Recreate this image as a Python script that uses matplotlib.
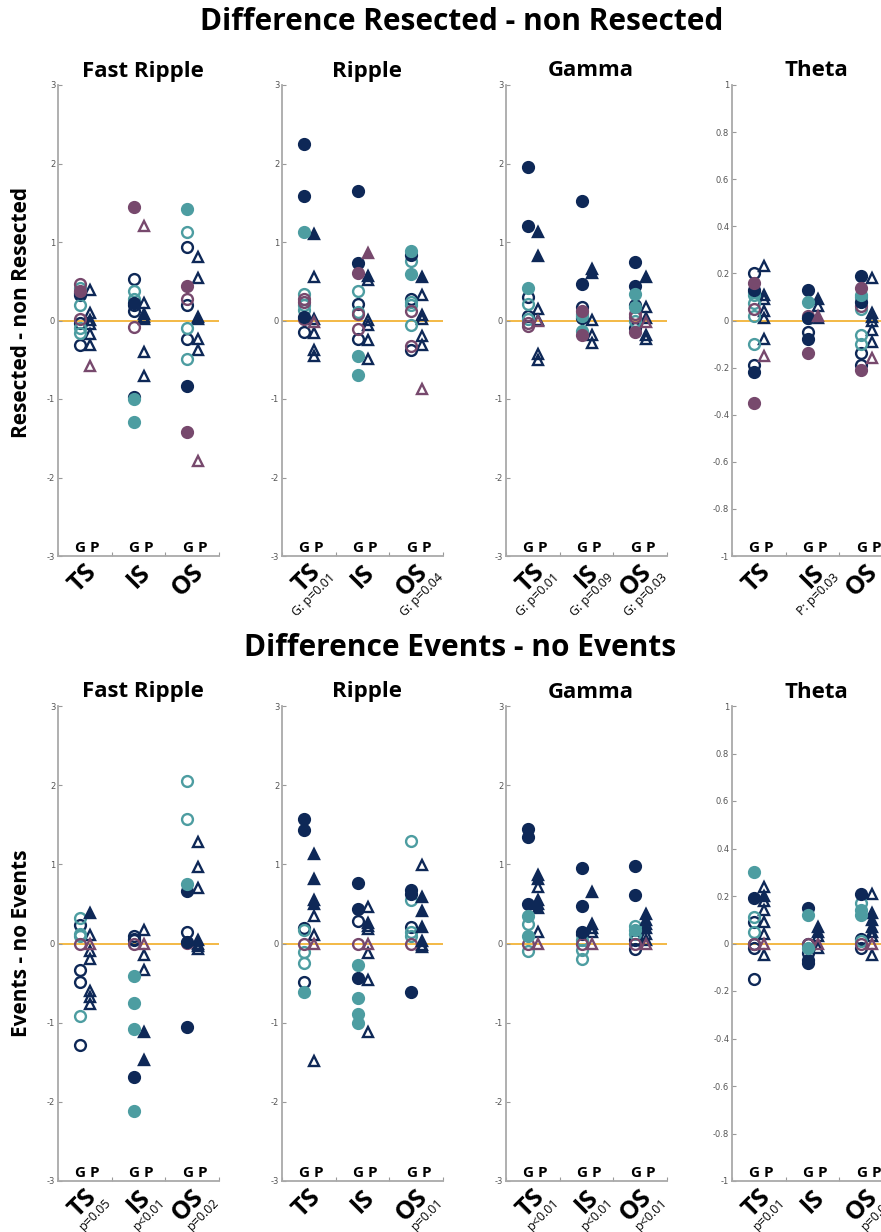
import matplotlib
matplotlib.use("Agg")
import matplotlib.pyplot as plt

# ---------------- data ----------------
# column order in every list: TS_G, TS_P, IS_G, IS_P, OS_G, OS_P
groups = ["TS", "IS", "OS"]
cols = ["G", "P"]

# --- top row: Difference Resected - non Resected ---
tfr_navy_f = [[0.35], [], [0.22, -0.97], [0.08], [-0.84], [0.05]]
tfr_navy_o = [[0.33, -0.03, -0.31], [0.39, 0.10, 0.01, -0.04, -0.17, -0.31], [0.53, 0.20, 0.12],
              [0.22, 0.05, 0.02, -0.40, -0.71], [0.93, 0.20, -0.24], [0.81, 0.54, 0.02, -0.24, -0.38]]
tfr_teal_f = [[], [], [-1.0, -1.29], [], [1.42], []]
tfr_teal_o = [[0.42, 0.20, -0.10, -0.16], [], [0.37, 0.27], [], [1.13, -0.09, -0.49], []]
tfr_purple_f = [[0.38], [], [1.44], [], [0.44, -1.42], []]
tfr_purple_o = [[0.46, 0.02], [-0.58], [-0.08], [1.21], [0.27], [-1.79]]

tr_navy_f = [[2.25, 1.58, 0.04], [1.10], [1.65, 0.73], [0.57], [0.83], [0.55]]
tr_navy_o = [[-0.15], [0.56, 0.02, -0.16, -0.38, -0.45], [0.21, -0.23], [0.52, 0.01, -0.06, -0.25, -0.49],
             [0.27, -0.37], [0.33, 0.07, 0.02, -0.20, -0.31]]
tr_teal_f = [[1.13], [], [-0.45, -0.70], [], [0.89, 0.59], []]
tr_teal_o = [[0.34, 0.20, 0.13], [], [0.37, 0.11], [], [0.76, 0.24, 0.20, -0.06], []]
tr_purple_f = [[], [], [0.61], [0.86], [], []]
tr_purple_o = [[0.27, 0.24, 0.02], [-0.02], [0.08, -0.11], [], [0.12, -0.33], [-0.87]]

tg_navy_f = [[1.96, 1.21], [1.13, 0.82], [1.52, 0.47], [0.66, 0.61], [0.74, 0.44], [0.55]]
tg_navy_o = [[0.30, 0.06], [0.15, 0.01, -0.43, -0.50], [0.17, 0.03], [0.01, -0.19, -0.29],
             [0.20, -0.10], [0.17, 0.03, -0.18, -0.23]]
tg_teal_f = [[0.41], [], [0.06, -0.14], [], [0.34, 0.17], []]
tg_teal_o = [[0.21, 0.02], [], [0.08], [], [0.0], []]
tg_purple_f = [[], [], [0.12, -0.18], [], [-0.15], []]
tg_purple_o = [[-0.03, -0.07], [0.0], [], [], [0.08, 0.04], [-0.02]]

tt_navy_f = [[0.13, -0.22], [], [0.13, -0.08, 0.01], [0.09], [0.19, 0.08], []]
tt_navy_o = [[0.20, -0.19], [0.23, 0.11, 0.09, 0.04, 0.01, -0.08], [-0.05], [0.06, 0.01],
             [-0.14, -0.19], [0.18, 0.03, 0.015, 0.0, -0.04, -0.09]]
tt_teal_f = [[], [], [0.08], [], [0.11], []]
tt_teal_o = [[0.12, 0.11, 0.075, 0.02, -0.10], [], [0.01], [], [0.10, 0.05, -0.06, -0.10], []]
tt_purple_f = [[0.16, -0.35], [], [-0.14], [0.02], [0.14, -0.21], []]
tt_purple_o = [[0.05], [-0.15], [0.02], [], [0.06], [-0.16]]

# --- bottom row: Difference Events - no Events ---
bfr_navy_f = [[], [0.38], [-1.68], [-1.12, -1.47], [0.66, 0.02, -1.05], [0.05]]
bfr_navy_o = [[0.24, -0.34, -0.48, -1.28], [0.11, -0.09, -0.19, -0.60, -0.68, -0.76], [0.09, 0.06, 0.04],
              [0.17, -0.14, -0.33], [0.15], [1.28, 0.97, 0.70, 0.0, -0.03, -0.07]]
bfr_teal_f = [[], [], [-0.41, -0.75, -1.08, -2.12], [], [0.75], []]
bfr_teal_o = [[0.32, 0.12, 0.09, -0.91], [], [], [], [2.05, 1.57], []]
bfr_purple_f = [[], [], [], [], [], []]
bfr_purple_o = [[0.0], [0.0], [0.0], [0.0], [0.01], []]

br_navy_f = [[1.57, 1.43], [1.13, 0.81, 0.55, 0.50], [0.77, 0.44, -0.43], [0.26],
             [0.67, 0.63, -0.61], [0.59, 0.41, 0.21, 0.03]]
br_navy_o = [[0.19, -0.48], [0.35, 0.11, -1.49], [0.29], [0.46, 0.22, 0.18, -0.12, -0.46, -1.12],
             [0.21], [0.99, -0.02, -0.05]]
br_teal_f = [[-0.61], [], [-0.27, -0.69, -0.89, -1.0], [], [], []]
br_teal_o = [[0.17, -0.11, -0.25], [], [], [], [1.29, 0.55, 0.15, 0.10], []]
br_purple_f = [[], [], [], [], [], []]
br_purple_o = [[0.0], [0.0], [0.0], [0.0], [0.0], []]

bg_navy_f = [[1.45, 1.35, 0.50], [0.87, 0.82, 0.55, 0.50, 0.45], [0.95, 0.48, 0.15], [0.65, 0.25],
             [0.98, 0.61], [0.37, 0.30, 0.20]]
bg_navy_o = [[], [0.72, 0.15], [0.12], [0.20, 0.15], [0.05, -0.07], [0.25, 0.12, 0.05]]
bg_teal_f = [[0.35, 0.10], [], [], [], [0.17], []]
bg_teal_o = [[0.25, -0.10], [], [0.05, -0.08, -0.20], [], [0.22, 0.12], []]
bg_purple_f = [[], [], [], [], [], []]
bg_purple_o = [[0.0], [0.0], [0.0], [0.0], [0.0], [0.0]]

bt_navy_f = [[0.19], [0.20], [0.15, -0.07, -0.08], [0.07, 0.05], [0.21], [0.13, 0.10, 0.07]]
bt_navy_o = [[0.09, 0.0, -0.02, -0.15], [0.24, 0.18, 0.14, 0.09, 0.04, -0.05], [0.0, -0.04],
             [0.03, -0.02], [0.02, -0.02], [0.21, 0.05, 0.03, -0.05]]
bt_teal_f = [[0.30], [], [0.12, -0.02], [], [0.14, 0.12], []]
bt_teal_o = [[0.11, 0.05], [], [], [], [0.17, 0.01], []]
bt_purple_f = [[], [], [], [], [], []]
bt_purple_o = [[0.0], [0.0], [0.0], [0.0], [0.0], [0.0]]

panel_titles = ["Fast Ripple", "Ripple", "Gamma", "Theta"]
top_pvals = [["", "", ""], ["G: p=0.01", "", "G: p=0.04"],
             ["G: p=0.01", "G: p=0.09", "G: p=0.03"], ["", "P: p=0.03", ""]]
bot_pvals = [["p=0.05", "p<0.01", "p=0.02"], ["", "", "p=0.01"],
             ["p<0.01", "p<0.01", "p<0.01"], ["p=0.01", "", "p=0.01"]]

top_data = [
    (tfr_navy_o, tfr_teal_o, tfr_purple_o, tfr_navy_f, tfr_teal_f, tfr_purple_f),
    (tr_navy_o, tr_teal_o, tr_purple_o, tr_navy_f, tr_teal_f, tr_purple_f),
    (tg_navy_o, tg_teal_o, tg_purple_o, tg_navy_f, tg_teal_f, tg_purple_f),
    (tt_navy_o, tt_teal_o, tt_purple_o, tt_navy_f, tt_teal_f, tt_purple_f),
]
bot_data = [
    (bfr_navy_o, bfr_teal_o, bfr_purple_o, bfr_navy_f, bfr_teal_f, bfr_purple_f),
    (br_navy_o, br_teal_o, br_purple_o, br_navy_f, br_teal_f, br_purple_f),
    (bg_navy_o, bg_teal_o, bg_purple_o, bg_navy_f, bg_teal_f, bg_purple_f),
    (bt_navy_o, bt_teal_o, bt_purple_o, bt_navy_f, bt_teal_f, bt_purple_f),
]

# ---------------- style ----------------
NAVY = "#0e2857"
TEAL = "#4d9da1"
PURPLE = "#77496d"
ZERO = "#f2b337"
cat_styles = [(NAVY, False), (TEAL, False), (PURPLE, False),
              (NAVY, True), (TEAL, True), (PURPLE, True)]
BOLD = ["Open Sans", "DejaVu Sans"]

W, H = 881, 1232
fig = plt.figure(figsize=(W / 100, H / 100), dpi=100)

lefts = [58, 282, 506, 732]
axw = 161
rows = [(85, 556), (706, 1181)]


def draw_panel(ax, data, theta, pvals):
    ylim = (-1, 1) if theta else (-3, 3)
    ax.set_xlim(0.5, 3.5)
    ax.set_ylim(*ylim)
    ax.axhline(0, color=ZERO, lw=1.3, zorder=1)
    for series, (color, filled) in zip(data, cat_styles):
        for ci, vals in enumerate(series):
            if not vals:
                continue
            g = ci // 2
            c = ci % 2
            x = g + 1 + (-0.09 if c == 0 else 0.1)
            ax.plot([x] * len(vals), vals, linestyle="none",
                    marker="o" if c == 0 else "^",
                    ms=7.8 if c == 0 else 7.6,
                    mfc=color if filled else "none", mec=color,
                    mew=1.7, zorder=3 if not filled else 4, clip_on=False)
    for s in ["top", "right"]:
        ax.spines[s].set_visible(False)
    for s in ["left", "bottom"]:
        ax.spines[s].set_color("#a9a9a9")
        ax.spines[s].set_linewidth(1.3)
    ax.set_xticks([0.5, 1.5, 2.5, 3.5])
    ax.set_xticklabels([])
    if theta:
        yt = [-1, -0.8, -0.6, -0.4, -0.2, 0, 0.2, 0.4, 0.6, 0.8, 1]
    else:
        yt = [-3, -2, -1, 0, 1, 2, 3]
    ax.set_yticks(yt)
    ax.set_yticklabels([f"{v:g}" for v in yt], family="DejaVu Sans")
    ax.tick_params(direction="in", length=3, width=0.8, color="#999999",
                   labelcolor="#555555", labelsize=6, pad=2)
    for gi, gname in enumerate(groups):
        gx = gi + 1
        ax.text(gx + 0.05, 0.002, "G P", transform=ax.get_xaxis_transform(),
                ha="center", va="bottom", fontsize=11, fontweight="bold",
                family=BOLD)
        ax.annotate(gname, xy=(gx + 0.15, 0), xycoords=ax.get_xaxis_transform(),
                    xytext=(0, -9), textcoords="offset points",
                    rotation=45, rotation_mode="anchor", ha="right", va="center",
                    fontsize=18, fontweight="bold", family=BOLD, annotation_clip=False)
        if pvals[gi]:
            ax.annotate(pvals[gi], xy=(gx + 0.15, 0), xycoords=ax.get_xaxis_transform(),
                        xytext=(12, -14), textcoords="offset points",
                        rotation=45, rotation_mode="anchor", ha="right", va="center",
                        fontsize=9, family=BOLD, annotation_clip=False)


for r, (ytop, ybot) in enumerate(rows):
    datas = top_data if r == 0 else bot_data
    pv = top_pvals if r == 0 else bot_pvals
    for i in range(4):
        ax = fig.add_axes([lefts[i] / W, 1 - ybot / H, axw / W, (ybot - ytop) / H])
        draw_panel(ax, datas[i], i == 3, pv[i])
        fig.text((lefts[i] + axw / 2 + 4) / W, 1 - (ytop - 14) / H, panel_titles[i],
                 ha="center", va="center", fontsize=16, fontweight="bold", family=BOLD)

fig.text(462 / W, 1 - 22 / H, "Difference Resected - non Resected", ha="center", va="center",
         fontsize=21.5, fontweight="bold", family=BOLD)
fig.text(460 / W, 1 - 648 / H, "Difference Events - no Events", ha="center", va="center",
         fontsize=21.5, fontweight="bold", family=BOLD)
fig.text(22 / W, 1 - 313 / H, "Resected - non Resected", ha="center", va="center",
         rotation=90, fontsize=15, fontweight="bold", family=BOLD)
fig.text(22 / W, 1 - 943 / H, "Events - no Events", ha="center", va="center",
         rotation=90, fontsize=15, fontweight="bold", family=BOLD)

fig.savefig("out.png", dpi=100, facecolor="white")
